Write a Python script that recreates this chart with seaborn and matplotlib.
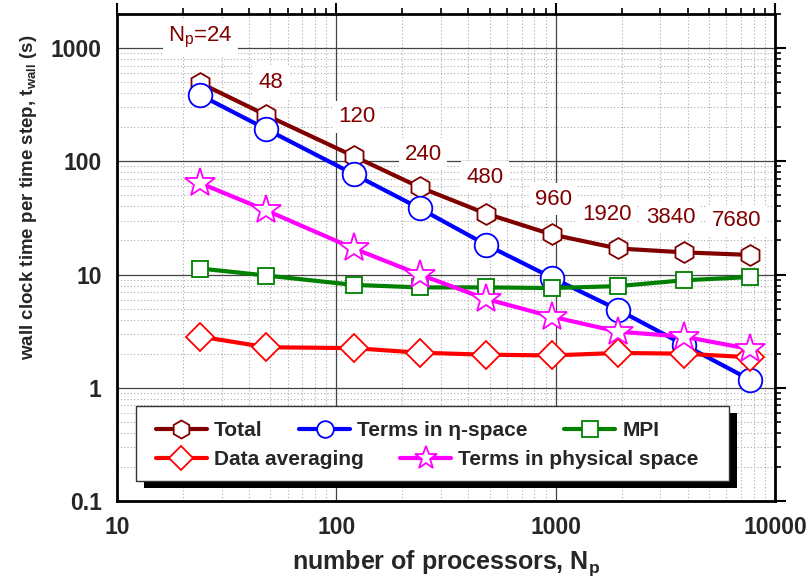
import numpy as np
import pandas as pd
import matplotlib
matplotlib.use("Agg")
import matplotlib.pyplot as plt
import seaborn as sns
from matplotlib.ticker import FixedLocator, FixedFormatter, LogLocator, NullFormatter
from matplotlib.patches import Rectangle

# ---------------- data ----------------
n_proc = [24, 48, 120, 240, 480, 960, 1920, 3840, 7680]
total = [490, 255, 111, 59, 34.6, 22.6, 17.0, 15.7, 14.9]
eta_space = [384, 192, 77, 38.4, 18.4, 9.4, 4.9, 2.4, 1.18]
mpi = [11.3, 9.8, 8.1, 7.7, 7.7, 7.6, 7.9, 8.9, 9.5]
data_avg = [2.83, 2.28, 2.24, 2.04, 1.96, 1.93, 2.03, 2.0, 1.86]
phys_space = [64, 36.8, 17.0, 10.0, 6.1, 4.25, 3.13, 2.83, 2.2]

series_names = ["Total", "Terms in η-space", "MPI", "Data averaging",
                "Terms in physical space"]
series_values = [total, eta_space, mpi, data_avg, phys_space]

point_labels = ["N$_\\mathregular{p}$=24", "48", "120", "240", "480", "960",
                "1920", "3840", "7680"]

x_ticks = [10, 100, 1000, 10000]
x_ticklabels = ["10", "100", "1000", "10000"]
y_ticks = [0.1, 1, 10, 100, 1000]
y_ticklabels = ["0.1", "1", "10", "100", "1000"]

# ---------------- style ----------------
sns.set_theme(style="white")
plt.rcParams["font.family"] = ["Liberation Sans", "DejaVu Sans"]
plt.rcParams["mathtext.fontset"] = "custom"
plt.rcParams["mathtext.rm"] = "Liberation Sans"
plt.rcParams["mathtext.bf"] = "Liberation Sans:bold"
plt.rcParams["mathtext.it"] = "Liberation Sans:italic"

colors = ["#800000", "#0000ff", "#008000", "#ff0000", "#ff00ff"]
markers = ["h", "o", "s", "D", "*"]
msizes = [15, 17, 12, 14, 22]
leg_msizes = [13, 12, 11, 12, 17]

df = pd.DataFrame({
    "Np": np.tile(n_proc, len(series_names)),
    "t": np.concatenate(series_values),
    "series": np.repeat(series_names, len(n_proc)),
})

fig = plt.figure(figsize=(8.11, 5.82), dpi=100)
ax = fig.add_axes([117 / 811, 81 / 582, 658 / 811, 487 / 582])

ax.set_xscale("log")
ax.set_yscale("log")
ax.set_xlim(10, 10000)
ax.set_ylim(0.1, 2000)

# grid
ax.grid(True, which="major", color="#444444", linestyle="-", linewidth=0.9, zorder=0)
ax.grid(True, which="minor", color="#aaaaaa", linestyle=(0, (1, 2)), linewidth=0.8, zorder=0)
ax.set_axisbelow(True)

handles = []
for name, c, m, ms, lms in zip(series_names, colors, markers, msizes, leg_msizes):
    sub = df[df["series"] == name]
    sns.lineplot(data=sub, x="Np", y="t", ax=ax, color=c, linewidth=3.0,
                 marker=m, markersize=ms, markerfacecolor="white",
                 markeredgecolor=c, markeredgewidth=1.3, legend=False,
                 zorder=3)
    h, = ax.plot([], [], color=c, linewidth=3.0, marker=m, markersize=lms,
                 markerfacecolor="white", markeredgecolor=c, markeredgewidth=1.3)
    handles.append(h)

# annotations (positions in axes fraction)
label_pos = [(0.127, 0.951), (0.234, 0.860), (0.365, 0.789), (0.465, 0.712),
             (0.559, 0.665), (0.663, 0.620), (0.744, 0.589), (0.842, 0.583),
             (0.941, 0.575)]
for txt, (px, py) in zip(point_labels, label_pos):
    ax.text(px, py, txt, transform=ax.transAxes, ha="center", va="center",
            fontsize=16, color="#800000", zorder=2.5,
            bbox=dict(facecolor="white", edgecolor="none", pad=4))

# ticks
ax.xaxis.set_major_locator(FixedLocator(x_ticks))
ax.xaxis.set_major_formatter(FixedFormatter(x_ticklabels))
ax.yaxis.set_major_locator(FixedLocator(y_ticks))
ax.yaxis.set_major_formatter(FixedFormatter(y_ticklabels))
ax.xaxis.set_minor_locator(LogLocator(base=10, subs=np.arange(2, 10), numticks=20))
ax.yaxis.set_minor_locator(LogLocator(base=10, subs=np.arange(2, 10), numticks=20))
ax.xaxis.set_minor_formatter(NullFormatter())
ax.yaxis.set_minor_formatter(NullFormatter())
ax.tick_params(which="major", direction="out", length=8, width=1.5,
               top=True, right=True, labelsize=16.5, pad=3, color="black")
ax.tick_params(which="minor", direction="out", length=4, width=1.2,
               top=True, right=True, color="black")
for lab in ax.get_xticklabels() + ax.get_yticklabels():
    lab.set_fontweight("bold")

for sp in ax.spines.values():
    sp.set_visible(True)
    sp.set_color("black")
    sp.set_linewidth(2)

ax.set_xlabel("number of processors, N$_\\mathbf{p}$", fontsize=18,
              fontweight="bold")
ax.xaxis.set_label_coords(0.5, -0.098)
ax.set_ylabel("wall clock time per time step, t$_\\mathbf{wall}$ (s)", fontsize=13.5,
              fontweight="bold")
ax.yaxis.set_label_coords(-0.118, 0.624)

# legend frame + shadow (axes fraction)
fx0, fx1, fy0, fy1 = 0.0289, 0.930, 0.041, 0.195
sh_dx, sh_dy = 8 / 658, 7 / 487
ax.add_patch(Rectangle((fx0 + sh_dx, fy0 - sh_dy), fx1 - fx0, fy1 - fy0,
                       transform=ax.transAxes, facecolor="black",
                       edgecolor="none", zorder=5.0, clip_on=False))
ax.add_patch(Rectangle((fx0, fy0), fx1 - fx0, fy1 - fy0,
                       transform=ax.transAxes, facecolor="white",
                       edgecolor="#333333", linewidth=1.0, zorder=5.1,
                       clip_on=False))

leg_kw = dict(loc="center left", frameon=False, prop={"weight": "bold", "size": 15},
              handlelength=2.45, handletextpad=0.34, columnspacing=1.75,
              borderpad=0, borderaxespad=0, numpoints=1)
row1 = [0, 1, 2]
row2 = [3, 4]
leg1 = ax.legend([handles[i] for i in row1], [series_names[i] for i in row1],
                 ncol=3, bbox_to_anchor=(0.059, 0.145), **leg_kw)
leg1.set_zorder(6)
ax.add_artist(leg1)
leg2 = ax.legend([handles[i] for i in row2], [series_names[i] for i in row2],
                 ncol=2, bbox_to_anchor=(0.059, 0.085), **leg_kw)
leg2.set_zorder(6)

fig.savefig("out.png", dpi=100)
